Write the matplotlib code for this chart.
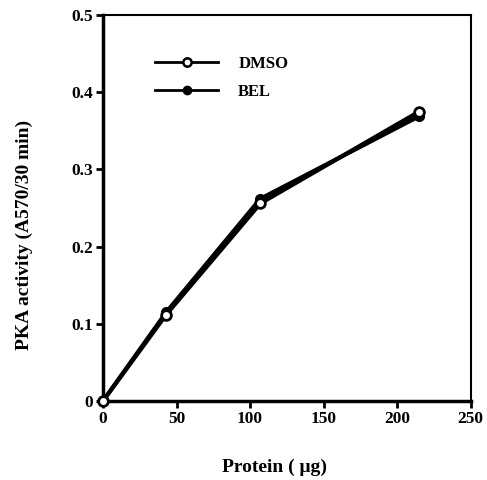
import matplotlib
matplotlib.use("Agg")
import matplotlib.pyplot as plt
from matplotlib.lines import Line2D

protein = [0, 43, 107, 215]
dmso = [0.0, 0.112, 0.256, 0.375]
bel = [0.0, 0.115, 0.262, 0.369]
xticks = [0, 50, 100, 150, 200, 250]
yticks = [0, 0.1, 0.2, 0.3, 0.4, 0.5]
ytick_labels = ["0", "0.1", "0.2", "0.3", "0.4", "0.5"]

plt.rcParams['font.family'] = ['Liberation Serif', 'DejaVu Serif']
plt.rcParams['font.weight'] = 'bold'

fig = plt.figure(figsize=(4.87, 4.80), dpi=100)
ax = fig.add_axes([0.2115, 0.1646, 0.755, 0.804])

ax.plot(protein, bel, color='black', lw=3, marker='o', ms=7,
        mfc='black', mec='black', zorder=3)
ax.plot(protein, dmso, color='black', lw=3, marker='o', ms=7,
        mfc='white', mec='black', mew=2, zorder=4, clip_on=False)

ax.set_xlim(0, 250)
ax.set_ylim(0, 0.5)
ax.set_xticks(xticks)
ax.set_xticklabels([str(t) for t in xticks], fontsize=12.5, fontweight='bold')
ax.set_yticks(yticks)
ax.set_yticklabels(ytick_labels, fontsize=12.5, fontweight='bold')
ax.tick_params(direction='out', length=5, width=2, pad=2)

for s in ['left', 'bottom']:
    ax.spines[s].set_linewidth(2.5)
for s in ['top', 'right']:
    ax.spines[s].set_linewidth(1.5)

ax.set_xlabel('Protein ( μg)', fontsize=14, fontweight='bold')
ax.xaxis.set_label_coords(0.467, -0.150)
ax.set_ylabel('PKA activity (A570/30 min)', fontsize=14, fontweight='bold')
ax.yaxis.set_label_coords(-0.19, 0.43)

handles = [
    Line2D([], [], color='black', lw=2, marker='o', ms=6, mfc='white', mec='black', mew=1.8),
    Line2D([], [], color='black', lw=2, marker='o', ms=6, mfc='black', mec='black'),
]
ax.legend(handles, ['DMSO', 'BEL'], loc='upper left', bbox_to_anchor=(0.141, 0.895),
          frameon=False, handlelength=3.8, handletextpad=1.2, labelspacing=0.75,
          borderpad=0, borderaxespad=0,
          prop={'weight': 'bold', 'size': 12})

fig.savefig('out.png', dpi=100)
